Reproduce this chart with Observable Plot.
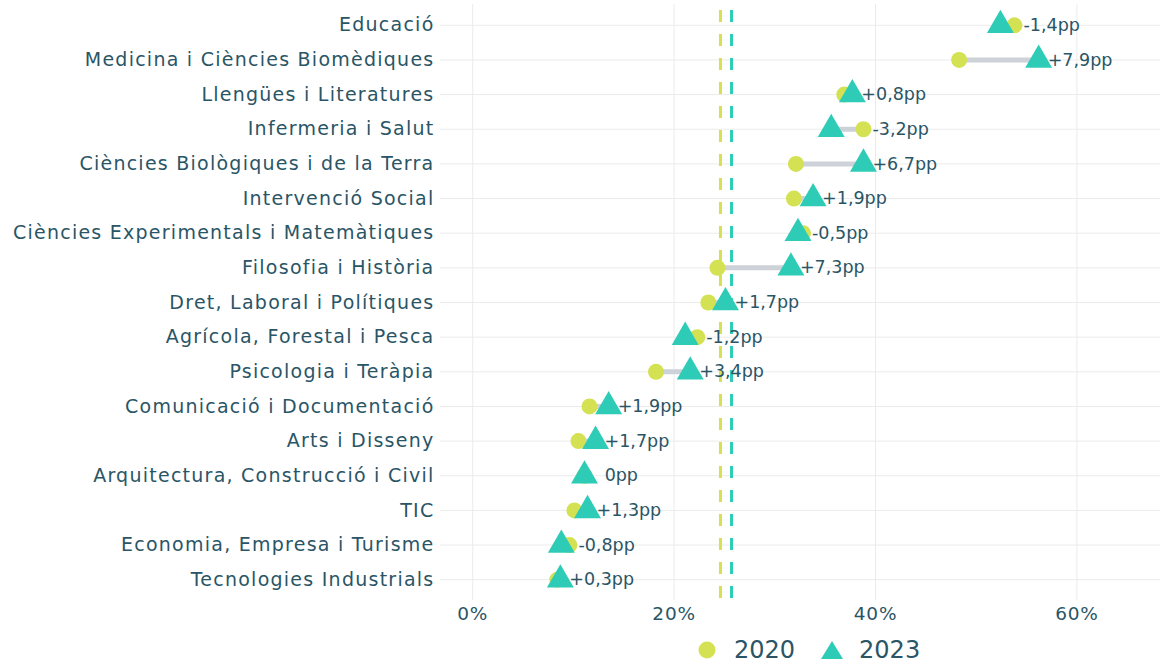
<!DOCTYPE html>
<html><head><meta charset="utf-8">
<script src="https://cdn.jsdelivr.net/npm/d3@7"></script>
<script src="https://cdn.jsdelivr.net/npm/@observablehq/plot@0.6"></script>
<style>
body{margin:0;background:#fff;font-family:"DejaVu Sans",sans-serif;}
#chart{position:relative;width:1162px;height:665px;overflow:hidden;}
#legend{position:absolute;top:639px;left:696px;display:flex;align-items:center;color:#2A5566;font-size:24px;line-height:22px;}
#legend svg{display:block;}
g[aria-label="y-axis tick label"] text{letter-spacing:1.25px;}
g[aria-label="x-axis tick label"] text{letter-spacing:0.8px;}
</style></head><body><div id="chart"></div>
<script>
const categories = ["Educació","Medicina i Ciències Biomèdiques","Llengües i Literatures","Infermeria i Salut","Ciències Biològiques i de la Terra","Intervenció Social","Ciències Experimentals i Matemàtiques","Filosofia i Història","Dret, Laboral i Polítiques","Agrícola, Forestal i Pesca","Psicologia i Teràpia","Comunicació i Documentació","Arts i Disseny","Arquitectura, Construcció i Civil","TIC","Economia, Empresa i Turisme","Tecnologies Industrials"];
const values2020 = [53.8,48.3,36.9,38.8,32.1,31.9,32.8,24.3,23.4,22.3,18.2,11.6,10.5,11.1,10.1,9.6,8.4];
const values2023 = [52.4,56.2,37.7,35.6,38.8,33.8,32.3,31.6,25.1,21.1,21.6,13.5,12.2,11.1,11.4,8.8,8.7];
const changeLabels = ["-1,4pp","+7,9pp","+0,8pp","-3,2pp","+6,7pp","+1,9pp","-0,5pp","+7,3pp","+1,7pp","-1,2pp","+3,4pp","+1,9pp","+1,7pp","\u00a0\u00a00pp","+1,3pp","-0,8pp","+0,3pp"];
const mean2020 = 24.6;
const mean2023 = 25.7;
const xTicks = [0,20,40,60];
const years = ["2020","2023"];
const colors = ["#D4E152","#2ECCB7"];

const data = categories.map((c,i)=>({cat:c, v20:values2020[i], v23:values2023[i], label:changeLabels[i], maxv:Math.max(values2020[i],values2023[i])}));
const textColor = "#2A5566";
const plot = Plot.plot({
  width:1162, height:632,
  marginLeft:440, marginRight:2, marginTop:4, marginBottom:32,
  style:{fontFamily:'"DejaVu Sans",sans-serif', color:textColor, background:"#fff"},
  x:{domain:[-3.2,68.3]},
  y:{type:"point", domain:categories, padding:0.6, round:false},
  marks:[
    Plot.gridY({stroke:"#ebebeb", strokeOpacity:1, strokeWidth:1}),
    Plot.gridX({ticks:xTicks, stroke:"#ebebeb", strokeOpacity:1, strokeWidth:1}),
    Plot.axisY({tickSize:0, tickPadding:6, fontSize:19, fill:textColor, label:null}),
    Plot.axisX({ticks:xTicks, tickSize:0, tickPadding:6, fontSize:18.5, fill:textColor, tickFormat:d=>d+"%", label:null}),
    Plot.ruleY(data, {y:"cat", x1:"v20", x2:"v23", stroke:"#CDD2D8", strokeWidth:5}),
    Plot.ruleX([mean2020], {stroke:colors[0], strokeWidth:3, strokeDasharray:"12,12", strokeDashoffset:18}),
    Plot.ruleX([mean2023], {stroke:colors[1], strokeWidth:3, strokeDasharray:"12,12", strokeDashoffset:18}),
    Plot.dot(data, {x:"v20", y:"cat", symbol:"circle", r:8, fill:colors[0], stroke:"none"}),
    Plot.dot(data, {x:"v23", y:"cat", symbol:"triangle", r:10, fill:colors[1], stroke:"none"}),
    Plot.text(data, {x:"maxv", y:"cat", text:"label", textAnchor:"start", dx:9, fontSize:17.5, fill:textColor})
  ]
});
const chart = document.getElementById("chart");
chart.appendChild(plot);
const legend = document.createElement("div");
legend.id = "legend";
legend.innerHTML =
  `<svg width="22" height="22"><circle cx="11" cy="11" r="8.5" fill="${colors[0]}"/></svg>`+
  `<span style="margin-left:16px">${years[0]}</span>`+
  `<svg width="24" height="22" style="margin-left:25px"><path d="M12,2 L23,20 L1,20 Z" fill="${colors[1]}"/></svg>`+
  `<span style="margin-left:15px">${years[1]}</span>`;
chart.appendChild(legend);
</script>
</body></html>
